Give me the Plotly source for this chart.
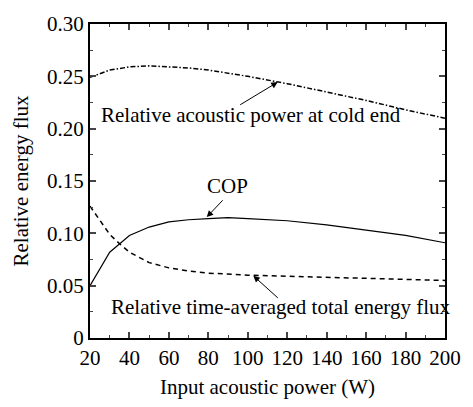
import plotly.graph_objects as go

# Data
x_cold = [20, 30, 40, 50, 60, 70, 80, 90, 100, 120, 140, 160, 180, 200]
y_cold = [0.249, 0.256, 0.259, 0.260, 0.259, 0.258, 0.256, 0.253, 0.250, 0.243, 0.235, 0.227, 0.218, 0.210]

x_cop = [20, 30, 40, 50, 60, 70, 80, 90, 100, 120, 140, 160, 180, 200]
y_cop = [0.050, 0.082, 0.098, 0.106, 0.111, 0.113, 0.114, 0.115, 0.114, 0.112, 0.108, 0.103, 0.098, 0.091]

x_tot = [20, 25, 30, 35, 40, 50, 60, 70, 80, 100, 120, 140, 160, 180, 200]
y_tot = [0.126, 0.112, 0.099, 0.090, 0.082, 0.072, 0.067, 0.064, 0.062, 0.060, 0.059, 0.058, 0.057, 0.056, 0.055]

x_ticks = [20, 40, 60, 80, 100, 120, 140, 160, 180, 200]
y_ticks = [0, 0.05, 0.10, 0.15, 0.20, 0.25, 0.30]
y_tick_labels = ["0", "0.05", "0.10", "0.15", "0.20", "0.25", "0.30"]

FONT = "Liberation Serif"
FS = 21

fig = go.Figure()
fig.add_trace(go.Scatter(x=x_cold, y=y_cold, mode="lines", line=dict(color="black", width=1.5, dash="5px,2px,1.5px,2px")))
fig.add_trace(go.Scatter(x=x_cop, y=y_cop, mode="lines", line=dict(color="black", width=1.2)))
fig.add_trace(go.Scatter(x=x_tot, y=y_tot, mode="lines", line=dict(color="black", width=1.5, dash="5px,4px")))

ann = [
    dict(text="Relative acoustic power at cold end", x=24.8, y=0.213, xanchor="left", yanchor="middle", showarrow=False),
    dict(text="COP", x=89.5, y=0.145, xanchor="center", yanchor="middle", showarrow=False),
    dict(text="Relative time-averaged total energy flux", x=29.8, y=0.0295, xanchor="left", yanchor="middle", showarrow=False),
]
arrows = [
    # (tail x, tail y, head x, head y)
    (95.4, 0.222, 115.2, 0.2445),
    (88, 0.133, 79.2, 0.1155),
    (116, 0.037, 102.8, 0.0595),
]

fig.update_layout(
    width=473, height=407,
    margin=dict(l=90, r=18, t=23, b=60),
    paper_bgcolor="white", plot_bgcolor="white",
    showlegend=False,
)
for a in ann:
    fig.add_annotation(font=dict(family=FONT, size=FS, color="black"), **a)
for (tx, ty, hx, hy) in arrows:
    fig.add_annotation(x=hx, y=hy, ax=tx, ay=ty, xref="x", yref="y", axref="x", ayref="y",
                       text="", showarrow=True, arrowhead=2, arrowsize=1.3, arrowwidth=1, arrowcolor="black")

fig.update_xaxes(range=[20, 200], tickvals=x_ticks, ticks="inside", ticklen=6, tickwidth=1.5,
                 showline=True, linewidth=2, linecolor="black", mirror="ticks", showgrid=False, zeroline=False,
                 minor=dict(dtick=10, tick0=0, ticks="inside", ticklen=3, tickwidth=1.2, showgrid=False),
                 tickfont=dict(family=FONT, size=FS, color="black"),
                 title=dict(text="Input acoustic power (W)", font=dict(family=FONT, size=FS, color="black"), standoff=10))
fig.update_yaxes(range=[0, 0.30], tickvals=y_ticks, ticktext=y_tick_labels, ticks="inside", ticklen=6, tickwidth=1.5,
                 showline=True, linewidth=2, linecolor="black", mirror="ticks", showgrid=False, zeroline=False,
                 minor=dict(dtick=0.025, tick0=0, ticks="inside", ticklen=3, tickwidth=1.2, showgrid=False),
                 tickfont=dict(family=FONT, size=FS, color="black"),
                 title=dict(text="Relative energy flux", font=dict(family=FONT, size=FS, color="black"), standoff=13))

fig.write_html("out.html")
